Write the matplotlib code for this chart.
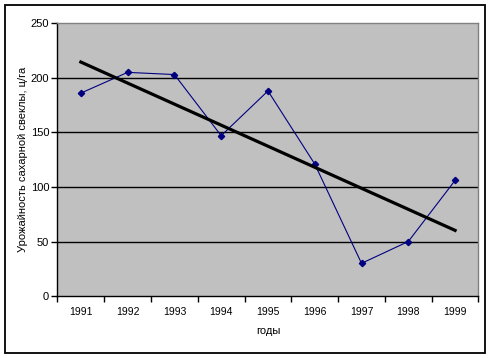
import matplotlib
matplotlib.use('Agg')
import matplotlib.pyplot as plt
import numpy as np
from matplotlib.patches import Rectangle

plt.rcParams['font.family'] = ['Liberation Sans', 'DejaVu Sans']

years = ['1991', '1992', '1993', '1994', '1995', '1996', '1997', '1998', '1999']
yields = [186, 205, 203, 147, 188, 121, 30, 50, 106]
y_ticks = [0, 50, 100, 150, 200, 250]

fig = plt.figure(figsize=(4.91, 3.58), dpi=100)
ax = fig.add_axes([0.117, 0.173, 0.8575, 0.762])
ax.set_facecolor('#C0C0C0')

x = np.arange(len(years))

# data line
ax.plot(x, yields, color='#000080', linewidth=0.8, marker='D', markersize=3.2,
        markerfacecolor='#000080', markeredgecolor='#000080', zorder=3)

# linear trend
k, b = np.polyfit(x, yields, 1)
ax.plot(x, k * x + b, color='black', linewidth=2.3, zorder=4)

ax.set_xlim(-0.5, len(years) - 0.5)
ax.set_ylim(0, 250)
ax.set_yticks(y_ticks)
for v in y_ticks[1:-1]:
    ax.axhline(v, color='black', linewidth=1, zorder=1)

# ticks at category boundaries, labels centered in categories
ax.set_xticks(np.arange(-0.5, len(years), 1.0))
ax.set_xticklabels([])
ax.set_xticks(x, minor=True)
ax.set_xticklabels(years, minor=True, fontsize=7.5)
ax.tick_params(axis='x', which='major', length=4, width=1, direction='out')
ax.tick_params(axis='x', which='minor', length=0, pad=8)
ax.tick_params(axis='y', length=4, width=1, direction='out', labelsize=8, pad=2)

ax.spines['left'].set_color('black')
ax.spines['bottom'].set_color('black')
ax.spines['top'].set_color('#808080')
ax.spines['right'].set_color('#808080')
for s in ax.spines.values():
    s.set_linewidth(1)

ax.set_xlabel('годы', fontsize=8, labelpad=6)
ax.set_ylabel('Урожайность сахарной свеклы, ц/га', fontsize=8, labelpad=2)

# outer chart border
fig.patches.append(Rectangle((0.0095, 0.0145), 0.979, 0.972, transform=fig.transFigure,
                             fill=False, edgecolor='black', linewidth=1.3))

fig.savefig('out.png', dpi=100)
